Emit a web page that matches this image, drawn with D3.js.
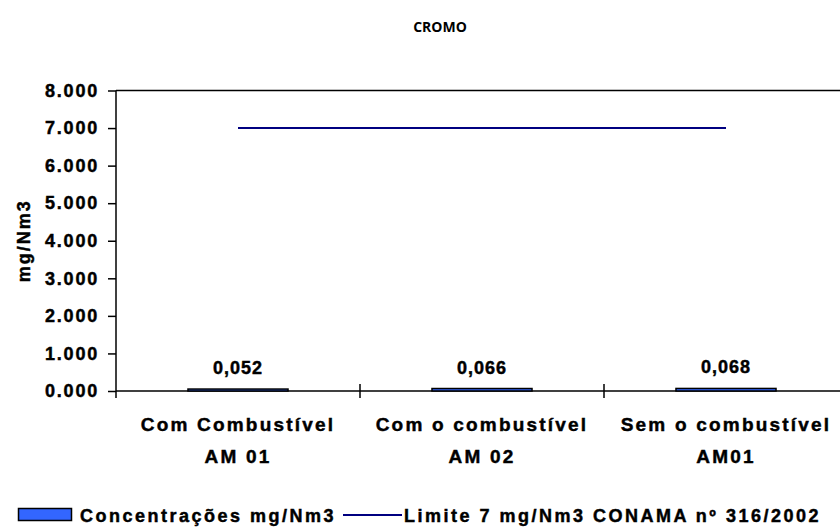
<!DOCTYPE html>
<html>
<head>
<meta charset="utf-8">
<script src="https://cdn.jsdelivr.net/npm/d3@7"></script>
<style>
  body { margin: 0; background: #fff; }
  text { font-family: "Liberation Sans", Arial, sans-serif; font-weight: bold; fill: #000; }
  .heavy { stroke: #000; stroke-width: 0.45px; }
</style>
</head>
<body>
<svg id="chart"></svg>
<script>
// chart values
const categories = ['Com Combustível|AM 01', 'Com o combustível|AM 02', 'Sem o combustível|AM01']
const concentrations = [0.052, 0.066, 0.068]
const valueLabels = ['0,052', '0,066', '0,068']
const limitValues = [7, 7, 7]
const yTicks = [0, 1, 2, 3, 4, 5, 6, 7, 8]

const width = 840, height = 531
const margin = {top: 90.5, right: -8, bottom: 140, left: 116}

const svg = d3.select('#chart')
  .attr('width', width)
  .attr('height', height)

const x = d3.scaleBand()
  .domain(categories)
  .range([margin.left, width - margin.right])

const y = d3.scaleLinear()
  .domain([0, 8])
  .range([height - margin.bottom, margin.top])

// title
svg.append('text')
  .attr('x', 440).attr('y', 32)
  .attr('text-anchor', 'middle')
  .style('font-family', '"Open Sans", sans-serif')
  .style('font-size', '14px')
  .text('CROMO')

// plot frame (top + right)
svg.append('path')
  .attr('d', `M${margin.left},${y(8)}H${width - margin.right}V${y(0)}`)
  .attr('fill', 'none')
  .attr('stroke', '#000')
  .attr('stroke-width', 1.5)

// y axis
const yAxis = svg.append('g')
  .attr('transform', `translate(${margin.left},0)`)
  .call(d3.axisLeft(y).tickValues(yTicks).tickFormat(d3.format('.3f')).tickSize(8).tickPadding(9))
yAxis.select('.domain').remove()
yAxis.selectAll('line').attr('stroke', '#000').attr('stroke-width', 1.5)
yAxis.selectAll('text')
  .attr('class', 'heavy')
  .style('font-size', '18px')
  .style('letter-spacing', '1.8px')
  .style('font-family', '"Liberation Sans", Arial, sans-serif')
yAxis.append('line')
  .attr('y1', y(8)).attr('y2', y(0) + 7)
  .attr('stroke', '#000').attr('stroke-width', 1.5)

// y axis title
svg.append('text')
  .attr('class', 'heavy')
  .attr('transform', `translate(30,${(y(0) + y(8)) / 2}) rotate(-90)`)
  .attr('text-anchor', 'middle')
  .style('font-size', '18px')
  .style('letter-spacing', '2px')
  .text('mg/Nm3')

// x axis
const xAxis = svg.append('g')
  .attr('transform', `translate(0,${y(0)})`)
xAxis.append('line')
  .attr('x1', margin.left).attr('x2', width - margin.right)
  .attr('stroke', '#000').attr('stroke-width', 1.5)
xAxis.selectAll('.tick')
  .data(categories.slice(1))
  .join('line')
    .attr('class', 'tick')
    .attr('x1', d => x(d)).attr('x2', d => x(d))
    .attr('y1', -7).attr('y2', 7)
    .attr('stroke', '#000').attr('stroke-width', 1.5)

const catLabels = svg.append('g')
  .selectAll('text')
  .data(categories)
  .join('text')
    .attr('class', 'heavy')
    .attr('text-anchor', 'middle')
    .style('font-size', '19px')
    .style('letter-spacing', '2.2px')
catLabels.selectAll('tspan')
  .data(d => d.split('|').map(t => ({cat: d, t})))
  .join('tspan')
    .attr('x', d => x(d.cat) + x.bandwidth() / 2)
    .attr('y', (d, i) => y(0) + 40 + i * 32)
    .text(d => d.t)

// bars
const barW = x.bandwidth() * 0.41
svg.append('g')
  .selectAll('rect')
  .data(concentrations)
  .join('rect')
    .attr('x', (d, i) => x(categories[i]) + (x.bandwidth() - barW) / 2)
    .attr('y', d => y(d))
    .attr('width', barW)
    .attr('height', d => y(0) - y(d))
    .attr('fill', '#3366ff')
    .attr('stroke', '#000')
    .attr('stroke-width', 1.5)

// value labels
svg.append('g')
  .selectAll('text')
  .data(concentrations)
  .join('text')
    .attr('class', 'heavy')
    .attr('x', (d, i) => x(categories[i]) + x.bandwidth() / 2)
    .attr('y', d => y(d) - 15)
    .attr('text-anchor', 'middle')
    .style('font-size', '18px')
    .style('letter-spacing', '1px')
    .text((d, i) => valueLabels[i])

// limit line
const line = d3.line()
  .x((d, i) => x(categories[i]) + x.bandwidth() / 2)
  .y(d => y(d))
svg.append('path')
  .datum(limitValues)
  .attr('d', line)
  .attr('fill', 'none')
  .attr('stroke', '#000080')
  .attr('stroke-width', 2)

// legend
const legend = svg.append('g')
legend.append('rect')
  .attr('x', 18.5).attr('y', 508.5).attr('width', 53).attr('height', 12)
  .attr('fill', '#3366ff').attr('stroke', '#000').attr('stroke-width', 1.5)
legend.append('text')
  .attr('class', 'heavy')
  .attr('x', 80).attr('y', 522)
  .style('font-size', '18px')
  .style('letter-spacing', '2.5px')
  .text('Concentrações mg/Nm3')
legend.append('line')
  .attr('x1', 343).attr('x2', 402).attr('y1', 515).attr('y2', 515)
  .attr('stroke', '#000080').attr('stroke-width', 2)
legend.append('text')
  .attr('class', 'heavy')
  .attr('x', 404).attr('y', 522)
  .style('font-size', '18px')
  .style('letter-spacing', '2.5px')
  .text('Limite 7 mg/Nm3 CONAMA nº 316/2002')
</script>
</body>
</html>
